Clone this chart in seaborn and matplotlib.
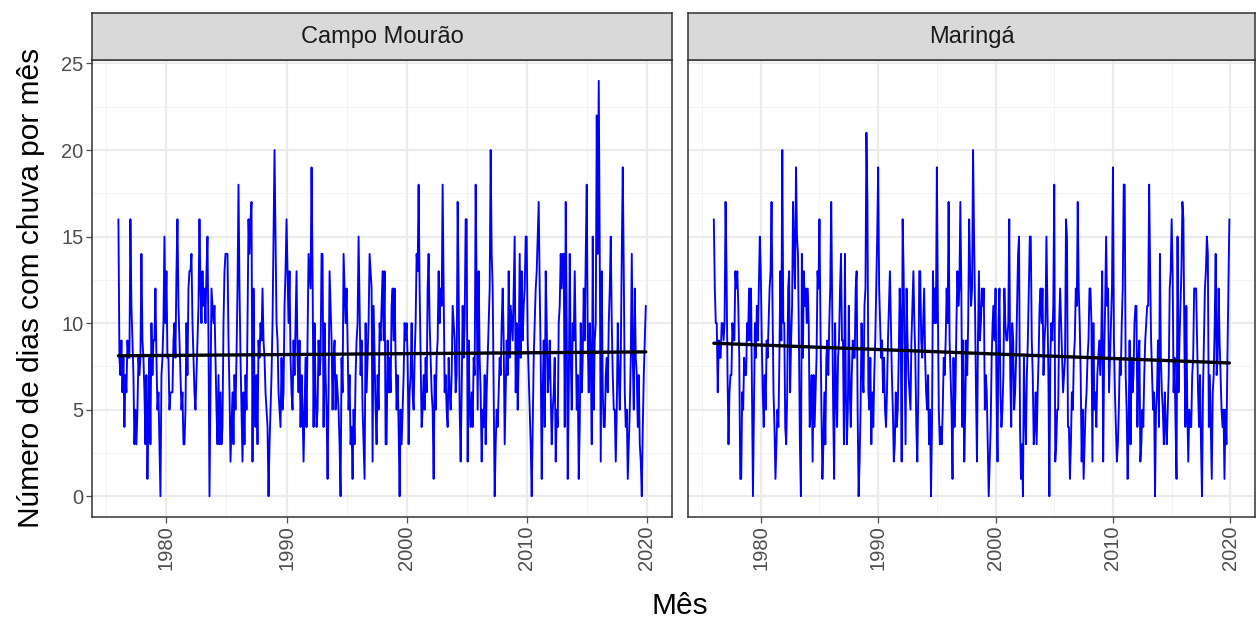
import numpy as np
import pandas as pd
import matplotlib
matplotlib.use("Agg")
import matplotlib.pyplot as plt
import seaborn as sns

stations = ["Campo Mourão", "Maringá"]
start_year = 1976
x_ticks = [1980, 1990, 2000, 2010, 2020]
y_ticks = [0, 5, 10, 15, 20, 25]
x_label = "Mês"
y_label = "Número de dias com chuva por mês"

# monthly rainy-day counts, Jan..Dec per row, 1976-2019
campo_mourao = [
    16, 8, 7, 9, 6, 8, 4, 7, 6, 9, 8, 8,
    16, 11, 9, 7, 3, 5, 3, 5, 8, 7, 8, 14,
    9, 8, 6, 3, 7, 1, 5, 8, 3, 10, 7, 9,
    9, 12, 8, 5, 6, 3, 0, 7, 8, 10, 15, 10,
    13, 8, 8, 5, 6, 6, 6, 9, 10, 8, 13, 16,
    11, 9, 7, 5, 6, 3, 3, 5, 10, 7, 12, 13,
    13, 14, 10, 8, 6, 5, 7, 9, 11, 16, 12, 10,
    13, 11, 12, 10, 13, 15, 9, 0, 6, 12, 11, 10,
    11, 8, 5, 3, 7, 3, 6, 3, 4, 10, 13, 14,
    14, 14, 9, 6, 2, 4, 6, 3, 7, 5, 8, 12,
    18, 12, 8, 5, 2, 6, 3, 7, 5, 10, 16, 14,
    16, 17, 2, 12, 6, 4, 7, 3, 9, 8, 10, 9,
    12, 9, 8, 6, 5, 4, 0, 3, 5, 7, 10, 15,
    20, 15, 10, 9, 6, 5, 4, 8, 5, 6, 11, 13,
    16, 13, 10, 13, 8, 6, 5, 9, 7, 10, 13, 8,
    6, 9, 4, 7, 5, 2, 5, 8, 4, 9, 14, 13,
    12, 19, 13, 4, 10, 6, 4, 5, 9, 7, 8, 14,
    14, 4, 10, 7, 5, 1, 6, 13, 11, 9, 5, 8,
    9, 5, 7, 6, 5, 3, 0, 8, 6, 14, 12, 10,
    12, 9, 5, 7, 3, 4, 1, 5, 3, 7, 9, 10,
    15, 11, 7, 9, 5, 3, 1, 10, 6, 8, 10, 14,
    13, 12, 2, 11, 8, 5, 3, 7, 5, 10, 9, 11,
    13, 9, 13, 3, 3, 9, 6, 8, 6, 11, 12, 9,
    12, 8, 5, 7, 4, 0, 5, 3, 5, 7, 10, 9,
    10, 8, 3, 6, 7, 10, 6, 5, 8, 10, 14, 13,
    18, 12, 8, 4, 5, 7, 5, 8, 6, 12, 14, 10,
    8, 6, 5, 1, 7, 5, 8, 9, 13, 10, 12, 11,
    18, 12, 6, 7, 5, 4, 8, 6, 5, 7, 11, 10,
    9, 6, 7, 17, 12, 5, 2, 6, 11, 8, 10, 16,
    16, 2, 9, 5, 4, 6, 4, 8, 7, 18, 12, 5,
    13, 8, 6, 2, 5, 4, 7, 3, 6, 8, 10, 12,
    20, 14, 12, 6, 0, 3, 5, 4, 6, 8, 7, 10,
    12, 9, 3, 6, 9, 7, 13, 8, 11, 10, 9, 12,
    15, 6, 10, 5, 8, 14, 8, 13, 9, 11, 12, 15,
    15, 9, 7, 5, 3, 0, 4, 8, 10, 12, 13, 15,
    17, 12, 8, 1, 6, 9, 4, 13, 10, 6, 7, 9,
    6, 3, 5, 6, 8, 2, 5, 4, 10, 11, 14, 12,
    14, 14, 4, 17, 10, 1, 6, 14, 8, 5, 10, 9,
    13, 9, 5, 7, 1, 4, 10, 6, 8, 12, 9, 14,
    18, 9, 6, 10, 8, 3, 15, 5, 9, 10, 22, 14,
    24, 14, 2, 13, 6, 4, 4, 7, 8, 6, 10, 12,
    15, 10, 7, 5, 5, 2, 5, 10, 7, 5, 8, 14,
    19, 13, 6, 4, 5, 1, 3, 5, 8, 14, 8, 5,
    12, 8, 7, 4, 7, 3, 2, 0, 4, 7, 9, 11,
]

maringa = [
    16, 12, 10, 10, 6, 9, 8, 8, 10, 10, 9, 10,
    17, 13, 7, 3, 6, 7, 7, 10, 9, 9, 13, 12,
    13, 11, 8, 1, 1, 6, 5, 8, 7, 7, 10, 9,
    12, 9, 12, 6, 0, 5, 10, 8, 11, 9, 12, 15,
    13, 9, 6, 4, 7, 5, 9, 8, 10, 12, 13, 17,
    11, 6, 4, 1, 3, 5, 4, 8, 13, 9, 20, 10,
    10, 4, 3, 6, 12, 13, 6, 9, 11, 17, 14, 12,
    19, 15, 14, 9, 3, 0, 14, 8, 13, 11, 12, 10,
    12, 10, 4, 5, 7, 2, 7, 4, 6, 8, 13, 12,
    16, 10, 5, 1, 3, 6, 3, 8, 9, 7, 10, 12,
    17, 11, 5, 1, 10, 6, 4, 8, 9, 12, 14, 9,
    9, 3, 14, 6, 3, 5, 11, 6, 4, 7, 9, 8,
    8, 12, 13, 5, 0, 2, 5, 10, 7, 6, 11, 12,
    21, 17, 6, 5, 8, 3, 6, 4, 7, 9, 12, 15,
    19, 12, 10, 8, 9, 6, 8, 5, 4, 6, 9, 11,
    13, 10, 7, 5, 2, 3, 6, 4, 5, 8, 12, 10,
    2, 16, 13, 8, 3, 12, 9, 7, 6, 5, 9, 11,
    13, 10, 8, 4, 2, 6, 13, 13, 9, 8, 10, 12,
    8, 6, 5, 7, 3, 5, 0, 4, 13, 10, 12, 10,
    19, 11, 5, 3, 4, 3, 5, 8, 7, 9, 12, 10,
    17, 9, 7, 5, 1, 8, 4, 6, 10, 13, 11, 12,
    17, 12, 4, 9, 2, 5, 9, 7, 10, 16, 13, 11,
    12, 20, 15, 11, 6, 2, 9, 13, 9, 10, 12, 11,
    12, 5, 7, 6, 3, 0, 2, 4, 8, 10, 11, 9,
    12, 6, 2, 10, 12, 6, 4, 5, 7, 12, 10, 9,
    9, 10, 16, 7, 4, 10, 9, 5, 6, 8, 11, 14,
    15, 4, 1, 3, 0, 8, 5, 3, 7, 9, 12, 15,
    15, 9, 7, 3, 4, 6, 3, 6, 8, 11, 12, 10,
    12, 7, 9, 10, 15, 11, 7, 0, 8, 10, 9, 11,
    18, 2, 3, 5, 5, 10, 12, 10, 8, 6, 7, 8,
    16, 15, 4, 4, 1, 3, 6, 5, 8, 9, 12, 11,
    17, 12, 10, 7, 2, 5, 1, 3, 5, 6, 8, 9,
    12, 12, 10, 2, 10, 5, 6, 4, 7, 8, 9, 7,
    9, 13, 2, 8, 11, 15, 11, 12, 6, 8, 10, 12,
    19, 9, 6, 4, 2, 3, 5, 8, 7, 10, 12, 18,
    18, 7, 5, 1, 4, 9, 3, 8, 6, 7, 10, 11,
    11, 4, 8, 9, 2, 3, 5, 4, 7, 9, 10, 11,
    11, 18, 13, 9, 7, 5, 6, 0, 5, 6, 9, 4,
    14, 8, 6, 5, 3, 6, 4, 3, 5, 7, 12, 13,
    16, 13, 6, 8, 4, 1, 15, 6, 9, 11, 13, 17,
    16, 9, 4, 11, 5, 2, 5, 4, 4, 7, 8, 12,
    12, 12, 9, 6, 4, 7, 3, 0, 6, 9, 12, 13,
    15, 14, 4, 7, 4, 1, 6, 7, 10, 14, 7, 8,
    12, 9, 7, 5, 4, 5, 1, 5, 3, 8, 12, 16,
]

series = {"Campo Mourão": campo_mourao, "Maringá": maringa}

frames = []
for name in stations:
    vals = series[name]
    n = len(vals)
    t = start_year + np.arange(n) / 12.0
    frames.append(pd.DataFrame({"estacao": name, "mes": t, "dias": vals}))
df = pd.concat(frames, ignore_index=True)

sns.set_theme(style="white")
plt.rcParams["font.family"] = ["Liberation Sans", "DejaVu Sans"]

W, H = 1259, 619
fig = plt.figure(figsize=(W / 100, H / 100), dpi=100)


def px_rect(x0, y0, x1, y1):
    return [x0 / W, 1 - y1 / H, (x1 - x0) / W, (y1 - y0) / H]


panels = [(92, 672), (688, 1255)]
border_col = "#333333"
grid_major = "#EBEBEB"
grid_minor = "#F3F3F3"
xlim = (1973.8, 2022.1)
ylim = (-1.2, 25.2)

for (x0, x1), name in zip(panels, stations):
    ax = fig.add_axes(px_rect(x0, 60, x1, 517))
    ax.set_facecolor("white")
    ax.set_xlim(*xlim)
    ax.set_ylim(*ylim)
    for v in [1975, 1985, 1995, 2005, 2015]:
        ax.axvline(v, color=grid_minor, lw=0.8, zorder=0)
    for v in [2.5, 7.5, 12.5, 17.5, 22.5]:
        ax.axhline(v, color=grid_minor, lw=0.8, zorder=0)
    for v in x_ticks:
        ax.axvline(v, color=grid_major, lw=1.6, zorder=0)
    for v in y_ticks:
        ax.axhline(v, color=grid_major, lw=1.6, zorder=0)
    sub = df[df["estacao"] == name]
    sns.lineplot(data=sub, x="mes", y="dias", ax=ax, color="blue",
                 lw=1.35, estimator=None, zorder=2)
    sns.regplot(data=sub, x="mes", y="dias", ax=ax, scatter=False, ci=None,
                truncate=True, line_kws={"color": "black", "lw": 2.4, "zorder": 3})
    ax.set_xlim(*xlim)
    ax.set_ylim(*ylim)
    ax.set_xticks(x_ticks)
    ax.set_yticks(y_ticks)
    ax.set_xlabel("")
    ax.set_ylabel("")
    ax.tick_params(axis="x", labelrotation=90, labelsize=14.5, colors="#4D4D4D",
                   length=4, width=0.9, direction="out", bottom=True, pad=2)
    ax.tick_params(axis="y", labelsize=14.5, colors="#4D4D4D",
                   length=4, width=0.9, direction="out", left=True, pad=2)
    if x0 != panels[0][0]:
        ax.tick_params(axis="y", labelleft=False, left=False)
    for lab in ax.get_xticklabels() + ax.get_yticklabels():
        lab.set_color("#4D4D4D")
    for sp in ax.spines.values():
        sp.set_color(border_col)
        sp.set_linewidth(1.1)
    ax.grid(False)

    sax = fig.add_axes(px_rect(x0, 13, x1, 60))
    sax.set_facecolor("#D9D9D9")
    sax.set_xticks([])
    sax.set_yticks([])
    for sp in sax.spines.values():
        sp.set_color(border_col)
        sp.set_linewidth(1.1)
    sax.text(0.5, 0.5, name, ha="center", va="center", fontsize=17,
             color="#1A1A1A", transform=sax.transAxes)

fig.text(680 / W, 1 - 606 / H, x_label, ha="center", va="center", fontsize=21.5, color="black")
fig.text(31 / W, 1 - 288 / H, y_label, ha="center", va="center", fontsize=21.5,
         rotation=90, color="black")

fig.savefig("out.png", dpi=100)
